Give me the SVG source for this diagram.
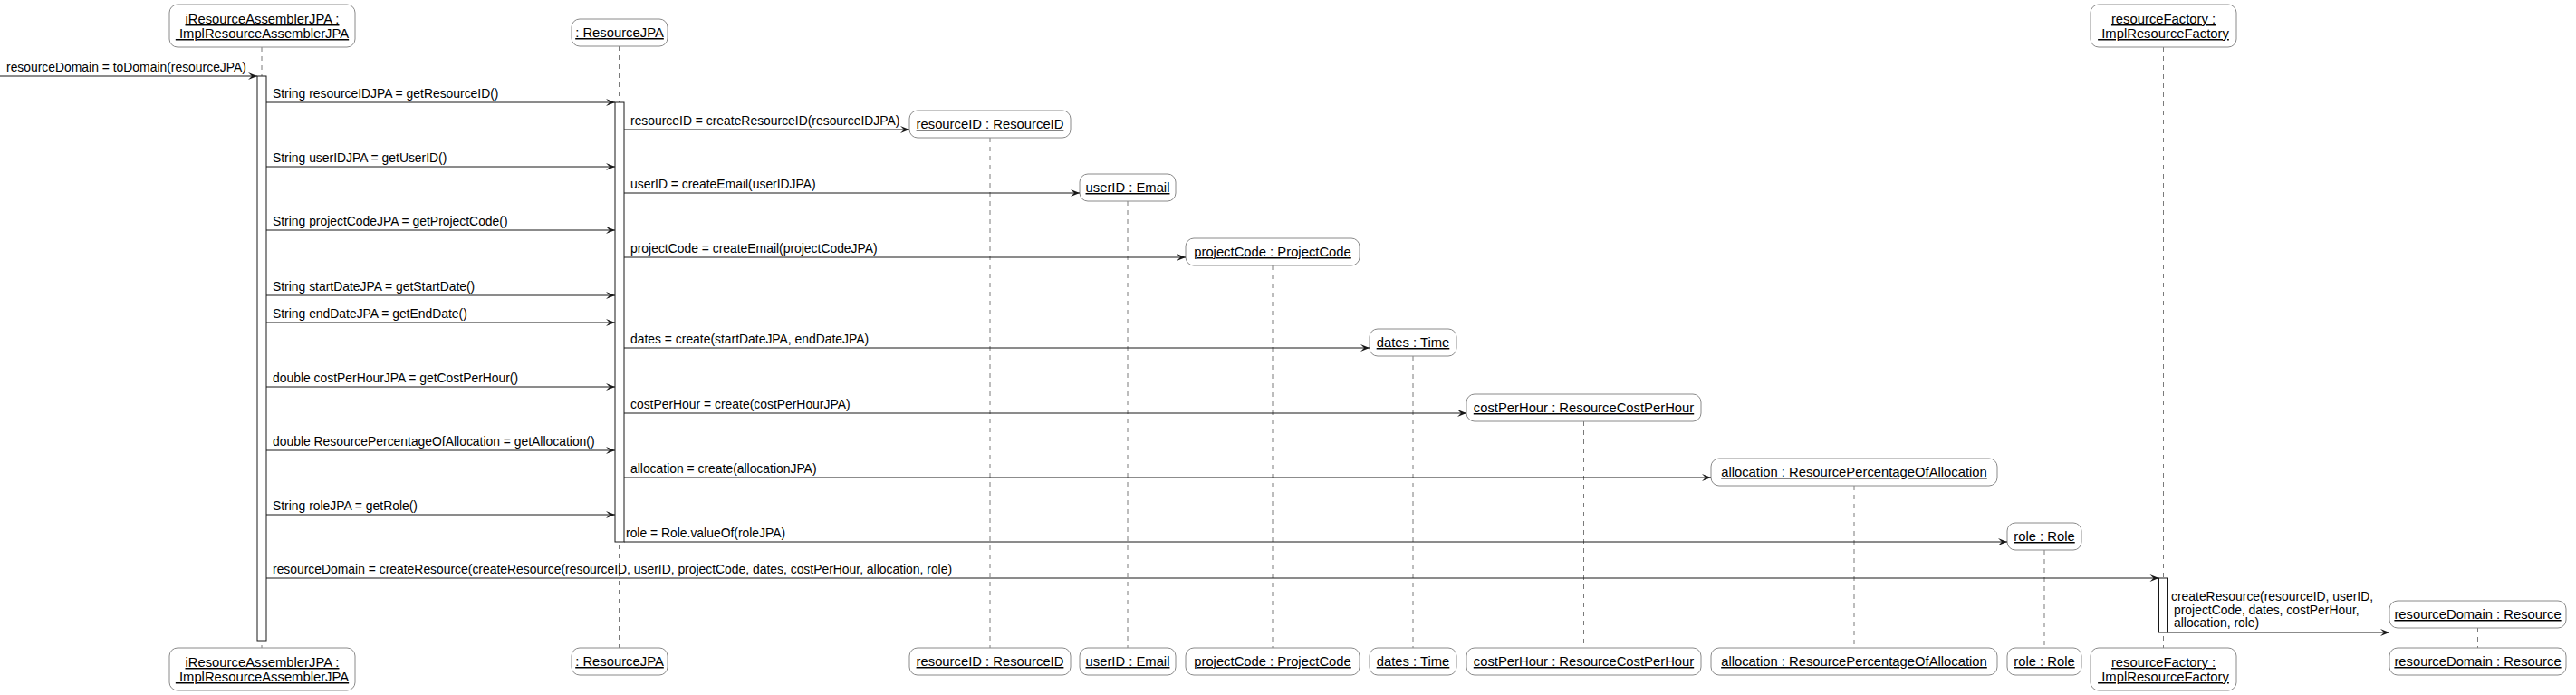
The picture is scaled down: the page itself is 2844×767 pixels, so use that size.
<svg xmlns="http://www.w3.org/2000/svg" width="2844" height="767" viewBox="0 0 2844 767">
<style>
.bg{fill:#ffffff}
.box{fill:#ffffff;stroke:#8a8a8a;stroke-width:1}
.life{stroke:#7a7a7a;stroke-width:1;stroke-dasharray:5,5;fill:none}
.act{fill:#ffffff;stroke:#181818;stroke-width:1}
.msg{stroke:#181818;stroke-width:1;fill:none;marker-end:url(#ah)}
.ht{font-family:"Liberation Sans",Arial,sans-serif;font-size:14.8px;fill:#000;text-anchor:middle;text-decoration:underline}
.mt{font-family:"Liberation Sans",Arial,sans-serif;font-size:13.9px;fill:#000}
</style>
<defs>
<marker id="ah" markerWidth="12" markerHeight="10" refX="11" refY="5" orient="auto" markerUnits="userSpaceOnUse">
<path d="M1,1 L11,5 L1,9 L5,5 Z" fill="#181818"/>
</marker>
</defs>
<rect class="bg" x="0" y="0" width="2844" height="767"/>

<g id="lifelines">
<line class="life" x1="289" y1="52" x2="289" y2="715"/>
<line class="life" x1="683.5" y1="51" x2="683.5" y2="715"/>
<line class="life" x1="1093" y1="152" x2="1093" y2="715"/>
<line class="life" x1="1245" y1="222" x2="1245" y2="715"/>
<line class="life" x1="1405" y1="293" x2="1405" y2="715"/>
<line class="life" x1="1560" y1="393" x2="1560" y2="715"/>
<line class="life" x1="1748.5" y1="465" x2="1748.5" y2="715"/>
<line class="life" x1="2047" y1="536" x2="2047" y2="715"/>
<line class="life" x1="2257" y1="607" x2="2257" y2="715"/>
<line class="life" x1="2388.5" y1="52" x2="2388.5" y2="715"/>
<line class="life" x1="2735.5" y1="693" x2="2735.5" y2="715"/>
</g>

<g id="activations">
<rect class="act" x="284" y="84" width="10" height="623"/>
<rect class="act" x="679" y="113" width="10" height="485"/>
<rect class="act" x="2383.5" y="638" width="10" height="60"/>
</g>

<g id="node-assembler">
<rect class="box" x="187" y="5" width="205" height="47" rx="9"/>
<text class="ht" x="289.5" y="26">iResourceAssemblerJPA :</text>
<text class="ht" x="289.5" y="42" xml:space="preserve"> ImplResourceAssemblerJPA</text>
<rect class="box" x="187" y="715" width="205" height="47" rx="9"/>
<text class="ht" x="289.5" y="736">iResourceAssemblerJPA :</text>
<text class="ht" x="289.5" y="752" xml:space="preserve"> ImplResourceAssemblerJPA</text>
</g>

<g id="node-resourcejpa">
<rect class="box" x="631" y="21" width="106" height="30" rx="9"/>
<text class="ht" x="684" y="41">: ResourceJPA</text>
<rect class="box" x="631" y="715" width="106" height="30" rx="9"/>
<text class="ht" x="684" y="735">: ResourceJPA</text>
</g>

<g id="node-resourceid">
<rect class="box" x="1004" y="122" width="178" height="30" rx="9"/>
<text class="ht" x="1093" y="142">resourceID : ResourceID</text>
<rect class="box" x="1004" y="715" width="178" height="30" rx="9"/>
<text class="ht" x="1093" y="735">resourceID : ResourceID</text>
</g>

<g id="node-userid">
<rect class="box" x="1192" y="192" width="106" height="30" rx="9"/>
<text class="ht" x="1245" y="212">userID : Email</text>
<rect class="box" x="1192" y="715" width="106" height="30" rx="9"/>
<text class="ht" x="1245" y="735">userID : Email</text>
</g>

<g id="node-projectcode">
<rect class="box" x="1309" y="263" width="192" height="30" rx="9"/>
<text class="ht" x="1405" y="283">projectCode : ProjectCode</text>
<rect class="box" x="1309" y="715" width="192" height="30" rx="9"/>
<text class="ht" x="1405" y="735">projectCode : ProjectCode</text>
</g>

<g id="node-dates">
<rect class="box" x="1512" y="363" width="96" height="30" rx="9"/>
<text class="ht" x="1560" y="383">dates : Time</text>
<rect class="box" x="1512" y="715" width="96" height="30" rx="9"/>
<text class="ht" x="1560" y="735">dates : Time</text>
</g>

<g id="node-costperhour">
<rect class="box" x="1619" y="435" width="259" height="30" rx="9"/>
<text class="ht" x="1748.5" y="455">costPerHour : ResourceCostPerHour</text>
<rect class="box" x="1619" y="715" width="259" height="30" rx="9"/>
<text class="ht" x="1748.5" y="735">costPerHour : ResourceCostPerHour</text>
</g>

<g id="node-allocation">
<rect class="box" x="1889" y="506" width="316" height="30" rx="9"/>
<text class="ht" x="2047" y="526">allocation : ResourcePercentageOfAllocation</text>
<rect class="box" x="1889" y="715" width="316" height="30" rx="9"/>
<text class="ht" x="2047" y="735">allocation : ResourcePercentageOfAllocation</text>
</g>

<g id="node-role">
<rect class="box" x="2216" y="577" width="82" height="30" rx="9"/>
<text class="ht" x="2257" y="597">role : Role</text>
<rect class="box" x="2216" y="715" width="82" height="30" rx="9"/>
<text class="ht" x="2257" y="735">role : Role</text>
</g>

<g id="node-factory">
<rect class="box" x="2308" y="5" width="161" height="47" rx="9"/>
<text class="ht" x="2388.5" y="26">resourceFactory :</text>
<text class="ht" x="2388.5" y="42" xml:space="preserve"> ImplResourceFactory</text>
<rect class="box" x="2308" y="715" width="161" height="47" rx="9"/>
<text class="ht" x="2388.5" y="736">resourceFactory :</text>
<text class="ht" x="2388.5" y="752" xml:space="preserve"> ImplResourceFactory</text>
</g>

<g id="node-resourcedomain">
<rect class="box" x="2638" y="663" width="195" height="30" rx="9"/>
<text class="ht" x="2735.5" y="683">resourceDomain : Resource</text>
<rect class="box" x="2638" y="715" width="195" height="30" rx="9"/>
<text class="ht" x="2735.5" y="735">resourceDomain : Resource</text>
</g>

<g id="connectors">
<line class="msg" x1="0" y1="84" x2="284" y2="84"/>
<text class="mt" x="7" y="79">resourceDomain = toDomain(resourceJPA)</text>

<line class="msg" x1="294" y1="113" x2="679" y2="113"/>
<text class="mt" x="301" y="108">String resourceIDJPA = getResourceID()</text>

<line class="msg" x1="689" y1="143" x2="1004" y2="143"/>
<text class="mt" x="696" y="138">resourceID = createResourceID(resourceIDJPA)</text>

<line class="msg" x1="294" y1="184" x2="679" y2="184"/>
<text class="mt" x="301" y="179">String userIDJPA = getUserID()</text>

<line class="msg" x1="689" y1="213" x2="1192" y2="213"/>
<text class="mt" x="696" y="208">userID = createEmail(userIDJPA)</text>

<line class="msg" x1="294" y1="254" x2="679" y2="254"/>
<text class="mt" x="301" y="249">String projectCodeJPA = getProjectCode()</text>

<line class="msg" x1="689" y1="284" x2="1309" y2="284"/>
<text class="mt" x="696" y="279">projectCode = createEmail(projectCodeJPA)</text>

<line class="msg" x1="294" y1="326" x2="679" y2="326"/>
<text class="mt" x="301" y="321">String startDateJPA = getStartDate()</text>

<line class="msg" x1="294" y1="356" x2="679" y2="356"/>
<text class="mt" x="301" y="351">String endDateJPA = getEndDate()</text>

<line class="msg" x1="689" y1="384" x2="1512" y2="384"/>
<text class="mt" x="696" y="379">dates = create(startDateJPA, endDateJPA)</text>

<line class="msg" x1="294" y1="427" x2="679" y2="427"/>
<text class="mt" x="301" y="422">double costPerHourJPA = getCostPerHour()</text>

<line class="msg" x1="689" y1="456" x2="1619" y2="456"/>
<text class="mt" x="696" y="451">costPerHour = create(costPerHourJPA)</text>

<line class="msg" x1="294" y1="497" x2="679" y2="497"/>
<text class="mt" x="301" y="492">double ResourcePercentageOfAllocation = getAllocation()</text>

<line class="msg" x1="689" y1="527" x2="1889" y2="527"/>
<text class="mt" x="696" y="522">allocation = create(allocationJPA)</text>

<line class="msg" x1="294" y1="568" x2="679" y2="568"/>
<text class="mt" x="301" y="563">String roleJPA = getRole()</text>

<line class="msg" x1="689" y1="598" x2="2216" y2="598"/>
<text class="mt" x="691" y="593">role = Role.valueOf(roleJPA)</text>

<line class="msg" x1="294" y1="638" x2="2383.5" y2="638"/>
<text class="mt" x="301" y="633">resourceDomain = createResource(createResource(resourceID, userID, projectCode, dates, costPerHour, allocation, role)</text>

<line class="msg" x1="2393.5" y1="698" x2="2638" y2="698"/>
<text class="mt" x="2397" y="663">createResource(resourceID, userID,</text>
<text class="mt" x="2400" y="678">projectCode, dates, costPerHour,</text>
<text class="mt" x="2400" y="692">allocation, role)</text>
</g>
</svg>
